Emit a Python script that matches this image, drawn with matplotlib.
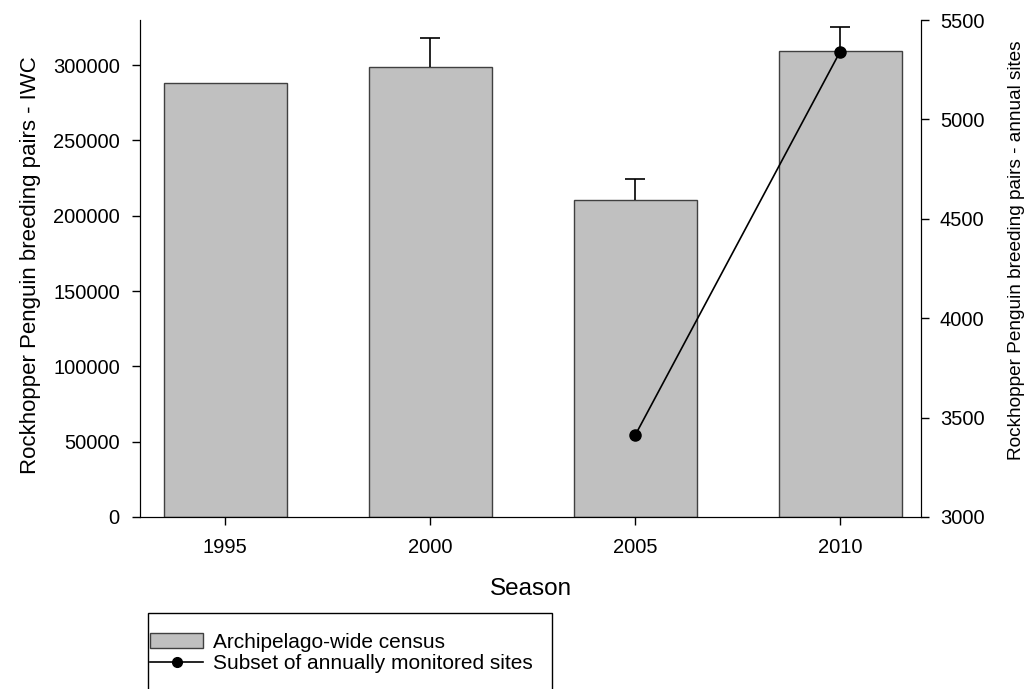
import matplotlib
matplotlib.use("Agg")
import matplotlib.pyplot as plt
from matplotlib.patches import Rectangle
from matplotlib.lines import Line2D
import numpy as np

plt.rcParams['font.family'] = ['Liberation Sans', 'DejaVu Sans']

seasons = ["1995", "2000", "2005", "2010"]
census = [288000, 299000, 210500, 309500]
census_err = [0, 19000, 14000, 16000]
annual_seasons = ["2005", "2010"]
annual = [3410, 5340]

fig = plt.figure(figsize=(10.34, 6.89), dpi=100)
ax = fig.add_axes([140/1034, 1-517/689, (921-140)/1034, (517-20)/689])
x = np.arange(len(seasons))
err = np.array(census_err, dtype=float)
ax.bar(x, census, width=0.6, color='#c0c0c0', edgecolor='#404040', linewidth=1.0, zorder=2)
mask = err > 0
_, caps, _ = ax.errorbar(x[mask], np.array(census)[mask],
                         yerr=[np.zeros(mask.sum()), err[mask]],
                         fmt='none', ecolor='black', elinewidth=1.2, capsize=7,
                         capthick=1.2, zorder=3)
caps[0].set_visible(False)
ax.set_xlim(-0.415, 3.395)
ax.set_ylim(0, 330000)
ax.set_yticks(np.arange(0, 300001, 50000))
ax.set_xticks(x)
ax.set_xticklabels(seasons)
ax.spines['top'].set_visible(False)
ax.tick_params(axis='y', direction='out', length=6, width=1, labelsize=14.5, pad=8.5)
ax.tick_params(axis='x', direction='out', length=6, width=1, labelsize=14.5, pad=9)
ax.set_ylabel("Rockhopper Penguin breeding pairs - IWC", fontsize=16)
ax.yaxis.set_label_coords(-0.1268, 0.507)
ax.set_xlabel("Season", fontsize=17.5, labelpad=15)

ax2 = ax.twinx()
xa = [seasons.index(s) for s in annual_seasons]
ax2.plot(xa, annual, color='black', linewidth=1.2, marker='o', markersize=8, zorder=4)
ax2.set_ylim(3000, 5500)
ax2.set_yticks(np.arange(3000, 5501, 500))
ax2.spines['top'].set_visible(False)
ax2.tick_params(axis='y', direction='out', length=6, width=1, labelsize=14.5, pad=7.5)
ax2.set_ylabel("Rockhopper Penguin breeding pairs - annual sites", fontsize=13.7)
ax2.yaxis.set_label_coords(1.1114, 0.537)

# legend
fig.patches.append(Rectangle((148/1034, -0.05), (552-148)/1034, 0.05 + 1-613/689,
                             transform=fig.transFigure, fill=False, edgecolor='black', linewidth=1))
handles = [Rectangle((0, 0), 1, 1, facecolor='#c0c0c0', edgecolor='#404040', linewidth=1),
           Line2D([], [], color='black', marker='o', markersize=7, linewidth=1.2)]
fig.legend(handles, ["Archipelago-wide census", "Subset of annually monitored sites"],
           loc='upper left', bbox_to_anchor=(150/1034, 1-633/689), frameon=False,
           fontsize=15, handlelength=2.55, handletextpad=0.48, labelspacing=0.1,
           borderaxespad=0, borderpad=0)

fig.savefig("out.png", dpi=100)
